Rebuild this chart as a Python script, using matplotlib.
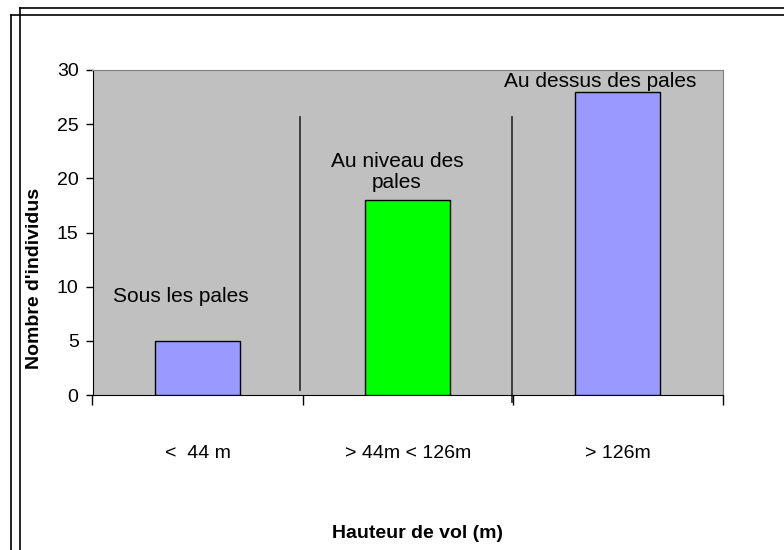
import matplotlib.pyplot as plt

plt.rcParams['font.family'] = ['Liberation Sans', 'DejaVu Sans']

categories = ['<  44 m', '> 44m < 126m', '> 126m']
counts = [5, 18, 28]
bar_labels = ['Sous les pales', 'Au niveau des\npales', 'Au dessus des pales']
bar_colors = ['#9999FF', '#00FF00', '#9999FF']
yticks = [0, 5, 10, 15, 20, 25, 30]

W, H = 784, 550
fig = plt.figure(figsize=(W / 100, H / 100), dpi=100)

# double frame like the pasted Excel object
fig.add_artist(plt.Line2D([20 / W, 1], [1 - 8 / H, 1 - 8 / H], color='black', lw=1.2))
fig.add_artist(plt.Line2D([20 / W, 20 / W], [0, 1 - 8 / H], color='black', lw=1.2))
fig.add_artist(plt.Line2D([11 / W, 1], [1 - 15 / H, 1 - 15 / H], color='black', lw=1.2))
fig.add_artist(plt.Line2D([11 / W, 11 / W], [0, 1 - 15 / H], color='black', lw=1.2))

left, right, top, bottom = 92.5, 723, 70, 395
ax = fig.add_axes([left / W, 1 - bottom / H, (right - left) / W, (bottom - top) / H])
ax.set_facecolor('#C0C0C0')

x = list(range(len(categories)))
ax.bar(x, counts, width=0.405, color=bar_colors, edgecolor='black', linewidth=1, zorder=3)

ax.set_xlim(-0.5, 2.5)
ax.set_ylim(0, 30)
ax.set_yticks(yticks)
ax.tick_params(axis='y', direction='out', length=5, width=1, labelsize=14, pad=5)
ax.set_xticks([-0.5, 0.5, 1.5, 2.5])
ax.set_xticklabels([])
ax.tick_params(axis='x', direction='out', length=7, width=1)

for side in ['top', 'right']:
    ax.spines[side].set_color('#808080')
for side in ['left', 'bottom']:
    ax.spines[side].set_color('black')

# vertical separators
ax.plot([0.487, 0.487], [0.46, 25.66], color='#333333', lw=1.3, zorder=2)
ax.plot([1.496, 1.496], [-0.6, 25.66], color='#333333', lw=1.3, zorder=2, clip_on=False)

# annotations above bars
ax.text(-0.079, 8.58, bar_labels[0], ha='center', va='baseline', fontsize=15)
ax.text(0.949, 19.11, bar_labels[1], ha='center', va='baseline', fontsize=15,
        linespacing=1.12, multialignment='center')
ax.text(1.915, 28.43, bar_labels[2], ha='center', va='baseline', fontsize=15)

# category labels
for i, c in enumerate(categories):
    px = left + (i + 0.5) * (right - left) / 3
    fig.text(px / W, 1 - 453 / H, c, ha='center', va='center', fontsize=14)

fig.text(417 / W, 1 - 533 / H, 'Hauteur de vol (m)', ha='center', va='center',
         fontsize=14, fontweight='bold')
fig.text(35 / W, 1 - 278 / H, "Nombre d'individus", ha='center', va='center',
         rotation=90, fontsize=14, fontweight='bold')

fig.savefig('out.png', dpi=100)
